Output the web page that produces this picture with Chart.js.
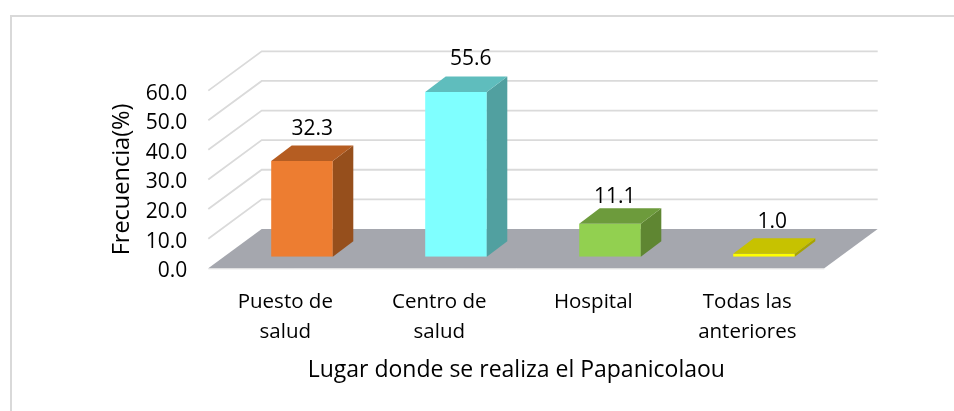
<!DOCTYPE html>
<html><head><meta charset="utf-8">
<style>html,body{margin:0;padding:0;background:#fff}canvas{display:block}</style>
<script src="https://cdn.jsdelivr.net/npm/chart.js@4/dist/chart.umd.min.js"></script>
</head><body><canvas id="c" width="954" height="411"></canvas>
<script>
const categories = [["Puesto de","salud"],["Centro de","salud"],["Hospital"],["Todas las","anteriores"]];
const frecuencia = [32.3,55.6,11.1,1.0];
const yTicks = [0,10,20,30,40,50,60];
const xTitle = "Lugar donde se realiza el Papanicolaou";
const yTitle = "Frecuencia(%)";
const frontColors = ["#ED7D31","#7FFFFF","#92D050","#FFFF00"];
const topColors = ["#B55D22","#5FBDBD","#6D9B3C","#C7C200"];
const sideColors = ["#964F1C","#51A0A0","#5F8632","#A8A400"];
const labelNudgeX = [0,4.5,-5.5,-2];
const labelNudgeY = [0,-0.7,6,1];

const FONT = "'Open Sans', sans-serif";
const BACK = {dx:53.4, dy:-39.3};
const BAR_OFF = {dx:16.7, dy:-11.6};
const BAR_D = {dx:20.5, dy:-15.5};
const poly = (ctx,pts,fill)=>{ctx.beginPath();pts.forEach((p,i)=>i?ctx.lineTo(p[0],p[1]):ctx.moveTo(p[0],p[1]));ctx.closePath();ctx.fillStyle=fill;ctx.fill();};

const scene3d = {
  id:'scene3d',
  beforeDraw(chart){
    const ctx=chart.ctx;
    ctx.save();
    ctx.strokeStyle='#D9D9D9';ctx.lineWidth=2;
    ctx.beginPath();ctx.moveTo(11,411);ctx.lineTo(11,16);ctx.lineTo(954,16);ctx.stroke();
    ctx.restore();
    chart.scales.y.getLabelItems().forEach(it=>{ if(!it._moved){it.textOffset+=3;it._moved=true;} });
  },
  beforeDatasetsDraw(chart){
    const {ctx,scales:{x,y}}=chart;
    const l=x.left,r=x.right,b=y.getPixelForValue(0);
    ctx.save();
    ctx.strokeStyle='#DADADA';ctx.lineWidth=1.8;
    yTicks.filter(v=>v>0).forEach(v=>{
      const p=y.getPixelForValue(v);
      ctx.beginPath();ctx.moveTo(l,p);ctx.lineTo(l+BACK.dx,p+BACK.dy);ctx.lineTo(r+BACK.dx,p+BACK.dy);ctx.stroke();
    });
    poly(ctx,[[l,b],[l+BACK.dx,b+BACK.dy],[r+BACK.dx,b+BACK.dy],[r,b]],'#A5A7AE');
    ctx.strokeStyle='#DCDCDC';ctx.lineWidth=1;
    ctx.beginPath();ctx.moveTo(l,b+.5);ctx.lineTo(r,b+.5);ctx.stroke();
    ctx.restore();
    ctx.save();
    ctx.translate(BAR_OFF.dx,BAR_OFF.dy);
  },
  afterDatasetsDraw(chart){
    const ctx=chart.ctx;
    const meta=chart.getDatasetMeta(0);
    meta.data.forEach((bar,i)=>{
      const L=bar.x-bar.width/2,R=bar.x+bar.width/2,T=bar.y,B=bar.base;
      poly(ctx,[[R,B],[R+BAR_D.dx,B+BAR_D.dy],[R+BAR_D.dx,T+BAR_D.dy],[R,T]],sideColors[i]);
      poly(ctx,[[L,T],[L+BAR_D.dx,T+BAR_D.dy],[R+BAR_D.dx,T+BAR_D.dy],[R,T]],topColors[i]);
    });
    ctx.fillStyle='#000';ctx.font='21px '+FONT;ctx.textAlign='center';ctx.textBaseline='middle';
    meta.data.forEach((bar,i)=>{
      ctx.fillText(frecuencia[i].toFixed(1),bar.x+BAR_D.dx/2+labelNudgeX[i],bar.y+BAR_D.dy-17+labelNudgeY[i]);
    });
    ctx.restore();
  }
};

new Chart(document.getElementById('c'),{
  type:'bar',
  data:{labels:categories,datasets:[{data:frecuencia,backgroundColor:frontColors,borderWidth:0,categoryPercentage:1,barPercentage:0.4}]},
  options:{
    responsive:false,animation:false,
    layout:{padding:{left:100,top:90.6,right:129.7,bottom:27}},
    plugins:{legend:{display:false},tooltip:{enabled:false},title:{display:false}},
    scales:{
      x:{
        grid:{display:false},border:{display:false},
        ticks:{color:'#000',font:{family:FONT,size:20.5,lineHeight:1.5},padding:10,maxRotation:0,autoSkip:false},
        title:{display:true,text:xTitle,color:'#000',font:{family:FONT,size:23},padding:0},
        afterFit(s){s.height=384-268.3;}
      },
      y:{
        min:0,max:60,
        grid:{display:false},border:{display:false},
        afterBuildTicks(s){s.ticks=yTicks.map(v=>({value:v}));},
        ticks:{color:'#000',font:{family:FONT,size:21},padding:13,callback:v=>Number(v).toFixed(1)},
        title:{display:true,text:yTitle,color:'#000',font:{family:FONT,size:23.5},padding:{top:8,bottom:0}},
        afterFit(s){s.width=108.3;}
      }
    }
  },
  plugins:[scene3d]
});
</script></body></html>
